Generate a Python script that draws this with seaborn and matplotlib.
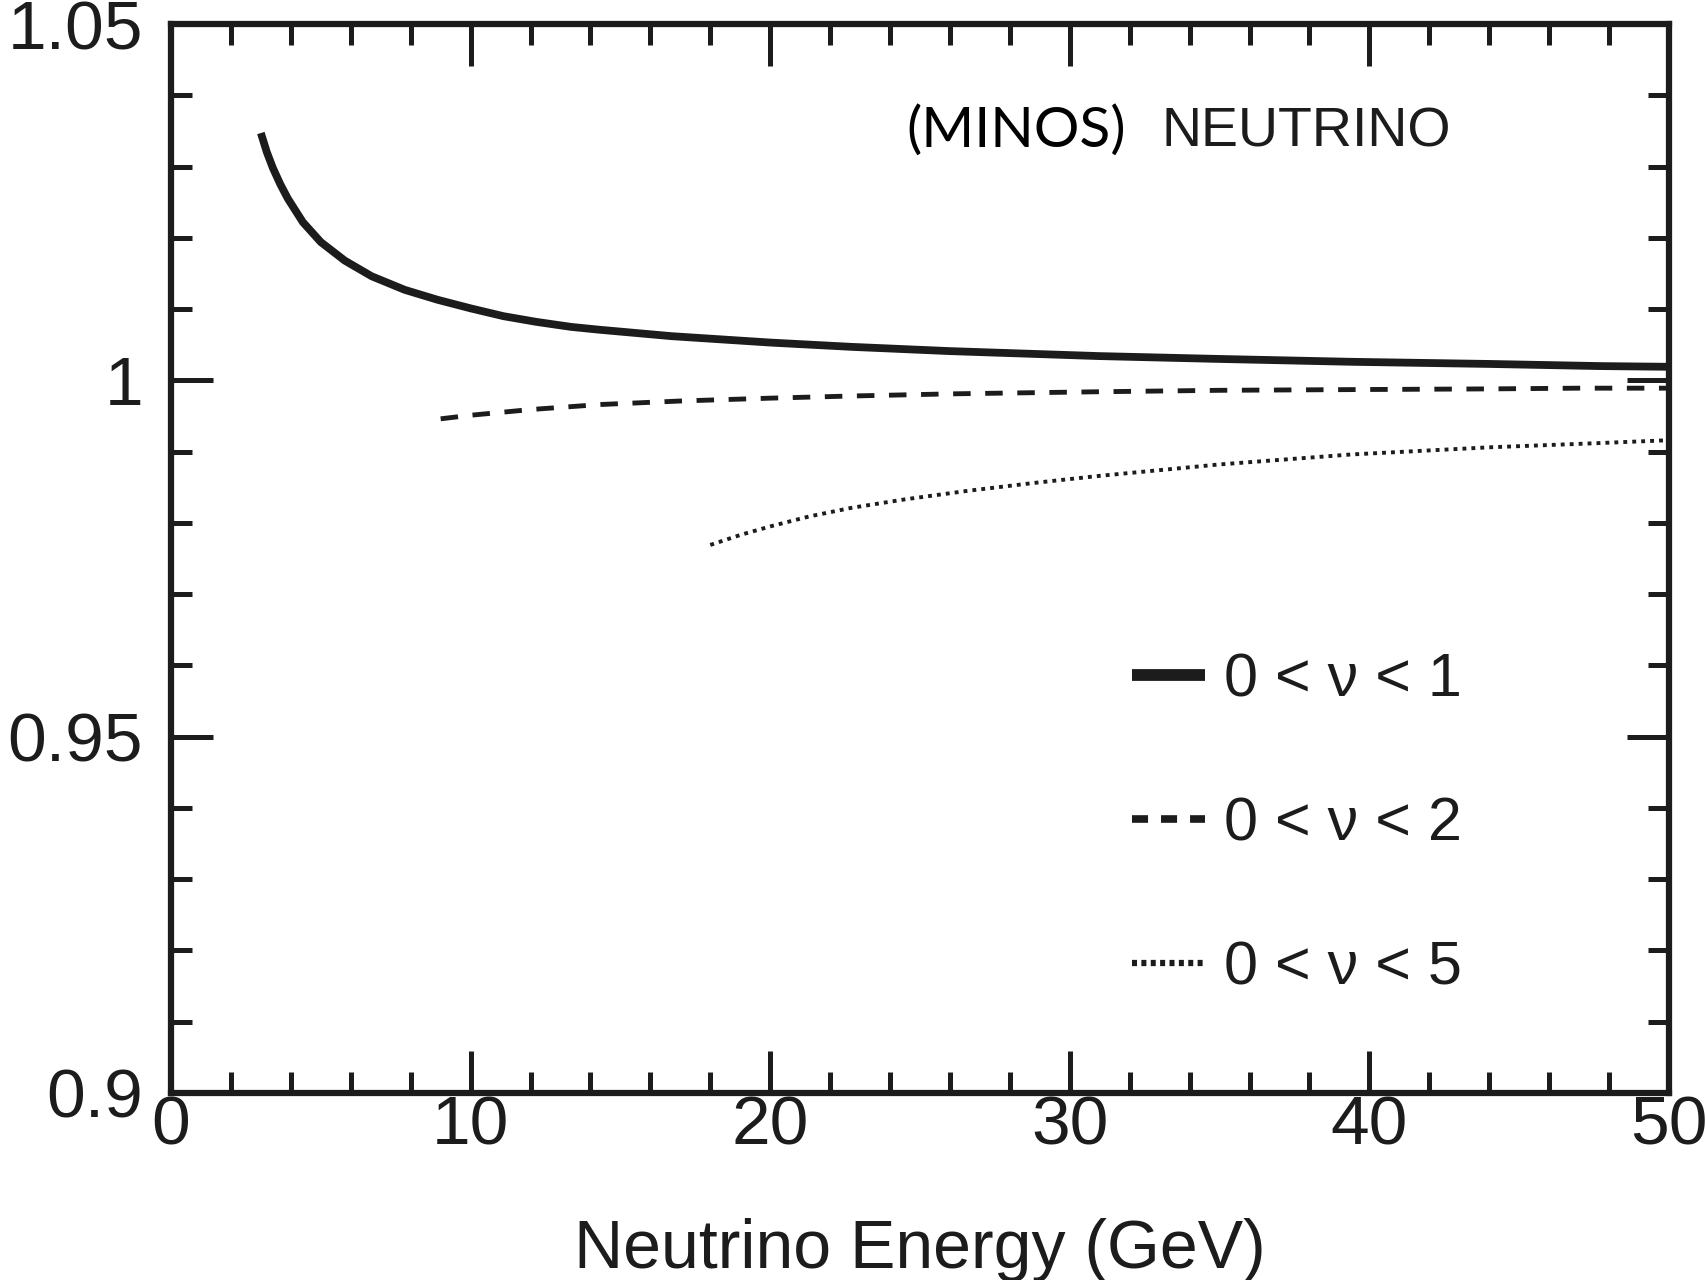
import matplotlib
matplotlib.use("Agg")
import matplotlib.pyplot as plt
import seaborn as sns
import pandas as pd
from matplotlib.lines import Line2D
from matplotlib.ticker import MultipleLocator

# ---- data ----
e_nu1 = [3, 3.2, 3.4, 3.65, 3.9, 4.4, 5, 5.8, 6.7, 7.8, 8.9, 10, 11.1, 12.2, 13.35,
         14.3, 16.7, 20, 22.7, 26, 31, 35, 39.4, 44, 47.7, 50]
r_nu1 = [1.0347, 1.0320, 1.0298, 1.0275, 1.0255, 1.0222, 1.0194, 1.0168, 1.0146, 1.0127,
         1.0113, 1.0101, 1.0090, 1.0082, 1.0075, 1.0071, 1.0062, 1.0053, 1.0047, 1.0041,
         1.0034, 1.0030, 1.0026, 1.0023, 1.0020, 1.0019]

e_nu2 = [9, 10, 12, 14.3, 17, 20, 22.7, 26, 31, 35, 39.4, 44, 47, 50]
r_nu2 = [0.9946, 0.9951, 0.9959, 0.9966, 0.9971, 0.9975, 0.9978, 0.9981, 0.9984, 0.9986,
         0.9987, 0.9988, 0.9989, 0.9989]

e_nu5 = [18, 19, 20, 21.3, 22.7, 24.5, 26.6, 28.8, 31, 35, 39.4, 44, 47.7, 50]
r_nu5 = [0.9769, 0.9783, 0.9795, 0.9809, 0.9821, 0.9833, 0.9845, 0.9856, 0.9866, 0.9882,
         0.9896, 0.9906, 0.9912, 0.9916]

labels = ["0 < \u03bd < 1", "0 < \u03bd < 2", "0 < \u03bd < 5"]
x_ticks = [0, 10, 20, 30, 40, 50]
y_ticks = [0.9, 0.95, 1.0, 1.05]
y_ticklabels = ["0.9", "0.95", "1", "1.05"]
xlabel = "Neutrino Energy (GeV)"

sns.set_theme(style="ticks")
main_font = ["Liberation Sans", "DejaVu Sans"]
plt.rcParams["font.family"] = main_font

ink = "#1c1c1c"
fig = plt.figure(figsize=(17.05, 12.8), dpi=100)
ax = fig.add_axes([171 / 1705, 1 - 1093 / 1280, 1498 / 1705, 1069 / 1280])

df1 = pd.DataFrame({"E": e_nu1, "R": r_nu1})
df2 = pd.DataFrame({"E": e_nu2, "R": r_nu2})
df5 = pd.DataFrame({"E": e_nu5, "R": r_nu5})

l1 = sns.lineplot(data=df1, x="E", y="R", ax=ax, color=ink, linewidth=5.6, legend=False).lines[-1]
l1.set_solid_capstyle("butt")
l1.set_solid_joinstyle("round")
l2 = sns.lineplot(data=df2, x="E", y="R", ax=ax, color=ink, linewidth=3.5, legend=False).lines[-1]
l2.set_dashes([3.6, 3.0])
l2.set_dash_capstyle("butt")
l5 = sns.lineplot(data=df5, x="E", y="R", ax=ax, color=ink, linewidth=2.8, legend=False).lines[-1]
l5.set_dashes([1.0, 1.3])
l5.set_dash_capstyle("butt")

ax.set_xlim(0, 50)
ax.set_ylim(0.9, 1.05)
ax.set_xticks(x_ticks)
ax.set_xticklabels([str(v) for v in x_ticks])
ax.set_yticks(y_ticks)
ax.set_yticklabels(y_ticklabels)
ax.xaxis.set_minor_locator(MultipleLocator(2))
ax.yaxis.set_minor_locator(MultipleLocator(0.01))

for sp in ax.spines.values():
    sp.set_visible(True)
    sp.set_linewidth(4.5)
    sp.set_color(ink)

ax.tick_params(which="both", direction="in", top=True, right=True, color=ink, width=3.6)
ax.tick_params(which="major", length=30)
ax.tick_params(which="minor", length=15)
ax.tick_params(axis="x", which="major", labelsize=50, pad=1, colors=ink)
ax.tick_params(axis="y", which="major", labelsize=50, pad=20, colors=ink)
ax.set_xlabel(xlabel, fontsize=49, color=ink)
ax.xaxis.set_label_coords(0.5, -0.1637)
ax.xaxis.label.set_verticalalignment("baseline")
ax.set_ylabel("")

ax.text(0.4907, 0.885, "(MINOS)", transform=ax.transAxes, fontsize=41, color="black",
        family=["Lato", "Open Sans", "DejaVu Sans"], va="baseline", ha="left")
ax.text(0.661, 0.885, "NEUTRINO", transform=ax.transAxes, fontsize=40, color=ink,
        family=main_font, va="baseline", ha="left")

h1 = Line2D([], [], color=ink, linewidth=8.5, solid_capstyle="butt")
h2 = Line2D([], [], color=ink, linewidth=5.5, dashes=[2.1, 1.7], dash_capstyle="butt")
h5 = Line2D([], [], color=ink, linewidth=4.5, dashes=[0.8, 0.7], dash_capstyle="butt")
leg = ax.legend([h1, h2, h5], labels, loc="upper left", bbox_to_anchor=(0.6415, 0.412),
                frameon=False, fontsize=44, handlelength=1.2, handletextpad=0.3,
                labelspacing=1.42, borderpad=0, borderaxespad=0)
for t in leg.get_texts():
    t.set_color(ink)

fig.savefig("out.png", dpi=100, facecolor="white")
